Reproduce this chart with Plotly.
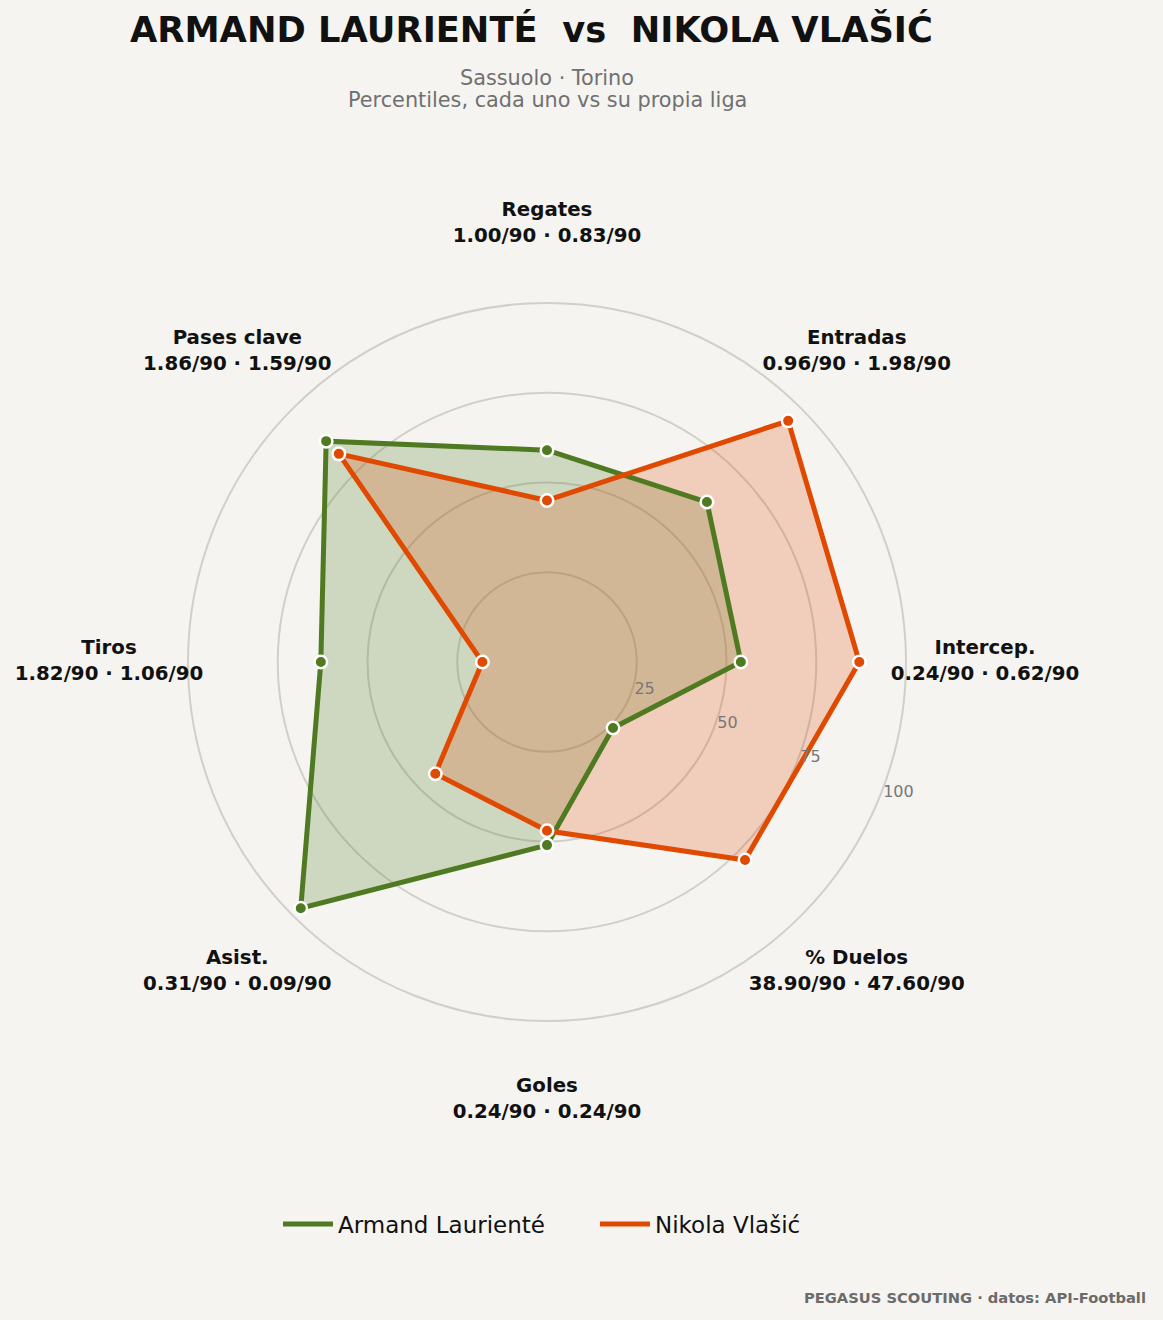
import plotly.graph_objects as go

# ---------------- data ----------------
categories = ["Regates", "Entradas", "Intercep.", "% Duelos", "Goles", "Asist.", "Tiros", "Pases clave"]
player_a = "Armand Laurienté"
player_b = "Nikola Vlašić"
pct_a = [59, 63, 54, 26, 51, 97, 63, 87]
pct_b = [45, 95, 87, 78, 47, 44, 18, 82]
per90_a = ["1.00", "0.96", "0.24", "38.90", "0.24", "0.31", "1.82", "1.86"]
per90_b = ["0.83", "1.98", "0.62", "47.60", "0.24", "0.09", "1.06", "1.59"]
radial_ticks = [25, 50, 75, 100]
label_r = 122

# ---------------- style ----------------
BG = "#f5f4f0"
GREEN = "#4f7a22"
ORANGE = "#e04a00"
GREEN_FILL = "rgba(79,122,34,0.23)"
ORANGE_FILL = "rgba(224,74,0,0.22)"
FONT = "DejaVu Sans"

W, H = 1163, 1320
cx, cy = 547, 662
R100 = 359
RMAX = 130
rad_px = R100 * RMAX / 100

def closed(v):
    return list(v) + [v[0]]

theta_c = closed(categories)

fig = go.Figure()

# fills
fig.add_trace(go.Scatterpolar(r=closed(pct_a), theta=theta_c, mode="none", fill="toself",
                              fillcolor=GREEN_FILL, showlegend=False, hoverinfo="skip"))
fig.add_trace(go.Scatterpolar(r=closed(pct_b), theta=theta_c, mode="none", fill="toself",
                              fillcolor=ORANGE_FILL, showlegend=False, hoverinfo="skip"))
# lines
fig.add_trace(go.Scatterpolar(r=closed(pct_a), theta=theta_c, mode="lines", name=player_a,
                              line=dict(color=GREEN, width=5)))
fig.add_trace(go.Scatterpolar(r=closed(pct_b), theta=theta_c, mode="lines", name=player_b,
                              line=dict(color=ORANGE, width=5)))
# markers
fig.add_trace(go.Scatterpolar(r=pct_a, theta=categories, mode="markers", showlegend=False,
                              marker=dict(color=GREEN, size=12.5, line=dict(color="white", width=2.5))))
fig.add_trace(go.Scatterpolar(r=pct_b, theta=categories, mode="markers", showlegend=False,
                              marker=dict(color=ORANGE, size=12.5, line=dict(color="white", width=2.5))))
# category labels
labels = [f"{c}<br>{a}/90 · {b}/90" for c, a, b in zip(categories, per90_a, per90_b)]
fig.add_trace(go.Scatterpolar(r=[label_r] * len(categories), theta=categories, mode="text",
                              text=labels, textposition="middle center", cliponaxis=False,
                              textfont=dict(family=FONT, size=19.8, color="#111111", weight="bold"),
                              showlegend=False, hoverinfo="skip"))

dom_x = [(cx - rad_px) / W, (cx + rad_px) / W]
dom_y = [(H - cy - rad_px) / H, (H - cy + rad_px) / H]

fig.update_layout(
    width=W, height=H, autosize=False,
    margin=dict(l=0, r=0, t=0, b=0),
    paper_bgcolor=BG, plot_bgcolor=BG,
    font=dict(family=FONT, color="#111111"),
    polar=dict(
        domain=dict(x=dom_x, y=dom_y),
        bgcolor="rgba(0,0,0,0)",
        radialaxis=dict(range=[0, RMAX], tickvals=radial_ticks, ticktext=[str(t) for t in radial_ticks],
                        showline=False, ticks="", angle=-22.5, tickangle=-22.5, side="counterclockwise",
                        gridcolor="#d2cfca", gridwidth=1.5,
                        tickfont=dict(family=FONT, size=16, color="#777777")),
        angularaxis=dict(rotation=90, direction="clockwise", showgrid=False, showline=False,
                         showticklabels=False, ticks="", categoryorder="array", categoryarray=categories),
    ),
    legend=dict(orientation="h", x=278 / W, xanchor="left", y=1 - 1224 / H, yanchor="middle",
                font=dict(family=FONT, size=23, color="#111111"), bgcolor="rgba(0,0,0,0)",
                itemwidth=50, entrywidth=252, entrywidthmode="pixels"),
    annotations=[
        dict(text="ARMAND LAURIENTÉ  vs  NIKOLA VLAŠIĆ", x=531.5 / W, y=1 - 30 / H, xref="paper", yref="paper",
             xanchor="center", yanchor="middle", showarrow=False,
             font=dict(family=FONT, size=35.3, color="#111111", weight="bold")),
        dict(text="Sassuolo · Torino", x=547 / W, y=1 - 78 / H, xref="paper", yref="paper",
             xanchor="center", yanchor="middle", showarrow=False,
             font=dict(family=FONT, size=20.8, color="#707070")),
        dict(text="Percentiles, cada uno vs su propia liga", x=547 / W, y=1 - 100 / H, xref="paper", yref="paper",
             xanchor="center", yanchor="middle", showarrow=False,
             font=dict(family=FONT, size=20.8, color="#707070")),
        dict(text="PEGASUS SCOUTING · datos: API-Football", x=1148 / W, y=1 - 1297 / H, xref="paper", yref="paper",
             xanchor="right", yanchor="middle", showarrow=False,
             font=dict(family=FONT, size=14.7, color="#6b6b6b", weight="bold")),
    ],
)

fig.write_html("out.html", config={"displayModeBar": False},
               post_script="document.body.style.margin='0';document.body.style.background='%s';" % BG)
